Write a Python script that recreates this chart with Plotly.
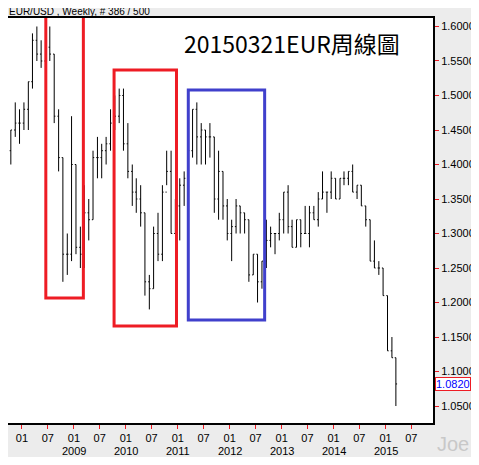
import pandas as pd
import plotly.graph_objects as go

# Monthly EUR/USD (Oct 2007 - Mar 2015)
months = pd.date_range('2007-10-01', '2015-03-01', freq='MS') + pd.Timedelta(days=14)
high = [1.45, 1.49, 1.48, 1.49, 1.52, 1.59, 1.60, 1.58, 1.58, 1.60, 1.56, 1.48, 1.41, 1.30, 1.47,
        1.40, 1.31, 1.37, 1.35, 1.42, 1.44, 1.43, 1.44, 1.48, 1.50, 1.51, 1.51,
        1.46, 1.40, 1.38, 1.37, 1.33, 1.24, 1.31, 1.33, 1.37, 1.42, 1.42, 1.35,
        1.38, 1.39, 1.42, 1.48, 1.49, 1.46, 1.45, 1.46, 1.44, 1.42, 1.39, 1.35,
        1.32, 1.35, 1.34, 1.33, 1.32, 1.27, 1.27, 1.26, 1.32, 1.31, 1.30, 1.33,
        1.36, 1.37, 1.32, 1.32, 1.32, 1.34, 1.34, 1.34, 1.36, 1.39, 1.36, 1.39,
        1.38, 1.38, 1.39, 1.39, 1.40, 1.37, 1.37, 1.34, 1.32, 1.29, 1.26, 1.25,
        1.21, 1.15, 1.12]
low = [1.40, 1.44, 1.43, 1.45, 1.45, 1.51, 1.55, 1.54, 1.53, 1.55, 1.46, 1.39, 1.23, 1.24, 1.26,
       1.27, 1.25, 1.25, 1.29, 1.32, 1.38, 1.38, 1.40, 1.42, 1.45, 1.46, 1.42,
       1.38, 1.34, 1.33, 1.31, 1.21, 1.19, 1.22, 1.26, 1.26, 1.37, 1.30, 1.30,
       1.29, 1.34, 1.38, 1.41, 1.40, 1.40, 1.40, 1.41, 1.33, 1.32, 1.32, 1.29,
       1.26, 1.30, 1.30, 1.30, 1.23, 1.24, 1.20, 1.22, 1.25, 1.28, 1.27, 1.29,
       1.30, 1.30, 1.28, 1.28, 1.28, 1.30, 1.28, 1.32, 1.31, 1.35, 1.33, 1.35,
       1.35, 1.35, 1.37, 1.37, 1.36, 1.35, 1.34, 1.31, 1.26, 1.25, 1.24, 1.21,
       1.13, 1.12, 1.05]
close = [1.45, 1.46, 1.46, 1.48, 1.52, 1.58, 1.56, 1.55, 1.57, 1.56, 1.47, 1.41, 1.27, 1.27, 1.40,
         1.28, 1.27, 1.33, 1.32, 1.41, 1.41, 1.42, 1.43, 1.46, 1.47, 1.50, 1.43,
         1.39, 1.36, 1.35, 1.33, 1.23, 1.22, 1.30, 1.27, 1.36, 1.39, 1.30, 1.34,
         1.37, 1.38, 1.42, 1.48, 1.44, 1.45, 1.44, 1.44, 1.35, 1.39, 1.34, 1.30,
         1.31, 1.34, 1.33, 1.32, 1.24, 1.27, 1.23, 1.26, 1.29, 1.30, 1.30, 1.32,
         1.36, 1.31, 1.28, 1.32, 1.30, 1.30, 1.33, 1.32, 1.35, 1.36, 1.36, 1.38,
         1.35, 1.38, 1.38, 1.39, 1.36, 1.37, 1.34, 1.32, 1.26, 1.25, 1.25, 1.21,
         1.13, 1.12, 1.082]
open_ = [1.42] + close[:-1]

last_price = 1.0820
tick_dates = pd.date_range('2008-01-01', '2015-07-01', freq='6MS')
tick_text = ['01' if d.month == 1 else '07' for d in tick_dates]
years = list(range(2009, 2016))

# highlight boxes: (x0, x1, y0, y1, colour)
boxes = [('2008-06-17', '2009-03-08', 1.2065, 1.6167, '#ee1c24'),
         ('2009-10-10', '2010-12-23', 1.166, 1.537, '#ee1c24'),
         ('2011-03-16', '2012-09-03', 1.1746, 1.508, '#4040cc')]

fig = go.Figure(go.Ohlc(
    x=months, open=open_, high=high, low=low, close=close,
    increasing_line_color='black', decreasing_line_color='black',
    line_width=1, tickwidth=0.3, showlegend=False))

for x0, x1, y0, y1, c in boxes:
    fig.add_shape(type='rect', x0=x0, x1=x1, y0=y0, y1=y1,
                  line=dict(color=c, width=3), fillcolor='rgba(0,0,0,0)')

for yr in years:
    fig.add_annotation(x=f'{yr}-01-01', y=0, yref='paper', yshift=-20, text=str(yr),
                       showarrow=False, yanchor='top', font=dict(size=11, color='black'))

fig.add_annotation(x=1, xref='paper', y=last_price, xanchor='left', xshift=2,
                   text=f'{last_price:.4f}', showarrow=False, bgcolor='white',
                   bordercolor='#ee1c24', borderwidth=1, borderpad=0,
                   font=dict(size=11, color='#0000ff', family='Liberation Sans'))
fig.add_annotation(x=0.41, xref='paper', y=0.985, yref='paper', text='20150321EUR周線圖',
                   xanchor='left', yanchor='top', showarrow=False,
                   font=dict(size=23, color='black', family='Noto Sans CJK TC'))
fig.add_annotation(x=0, xref='paper', y=1, yref='paper', yshift=0, xanchor='left',
                   yanchor='bottom', text='EUR/USD , Weekly, # 386 / 500', showarrow=False,
                   font=dict(size=10, color='black'), borderpad=0)
fig.add_annotation(x=1, xref='paper', y=0, yref='paper', xshift=38, yshift=-34,
                   xanchor='right', yanchor='bottom', text='Joe', showarrow=False,
                   font=dict(size=20, color='#c8c8c8'))

fig.update_layout(
    width=463, height=449, margin=dict(l=0, r=38, t=10, b=34, autoexpand=False),
    paper_bgcolor='#ececec', plot_bgcolor='white',
    font=dict(family='Liberation Sans', size=11, color='black'),
    xaxis=dict(range=['2007-09-25', '2015-12-01'], rangeslider_visible=False,
               tickvals=tick_dates, ticktext=tick_text, ticks='outside', automargin=False,
               tickcolor='#ee1c24', ticklen=4, showgrid=False,
               showline=True, linecolor='black', linewidth=2, mirror=True),
    yaxis=dict(range=[1.0254, 1.6123], side='right', dtick=0.05, tickformat='.4f',
               ticks='outside', tickcolor='#ee1c24', ticklen=4, showgrid=False, automargin=False,
               zeroline=False, showline=True, linecolor='black', linewidth=2, mirror=True),
)

fig.write_html('out.html')
